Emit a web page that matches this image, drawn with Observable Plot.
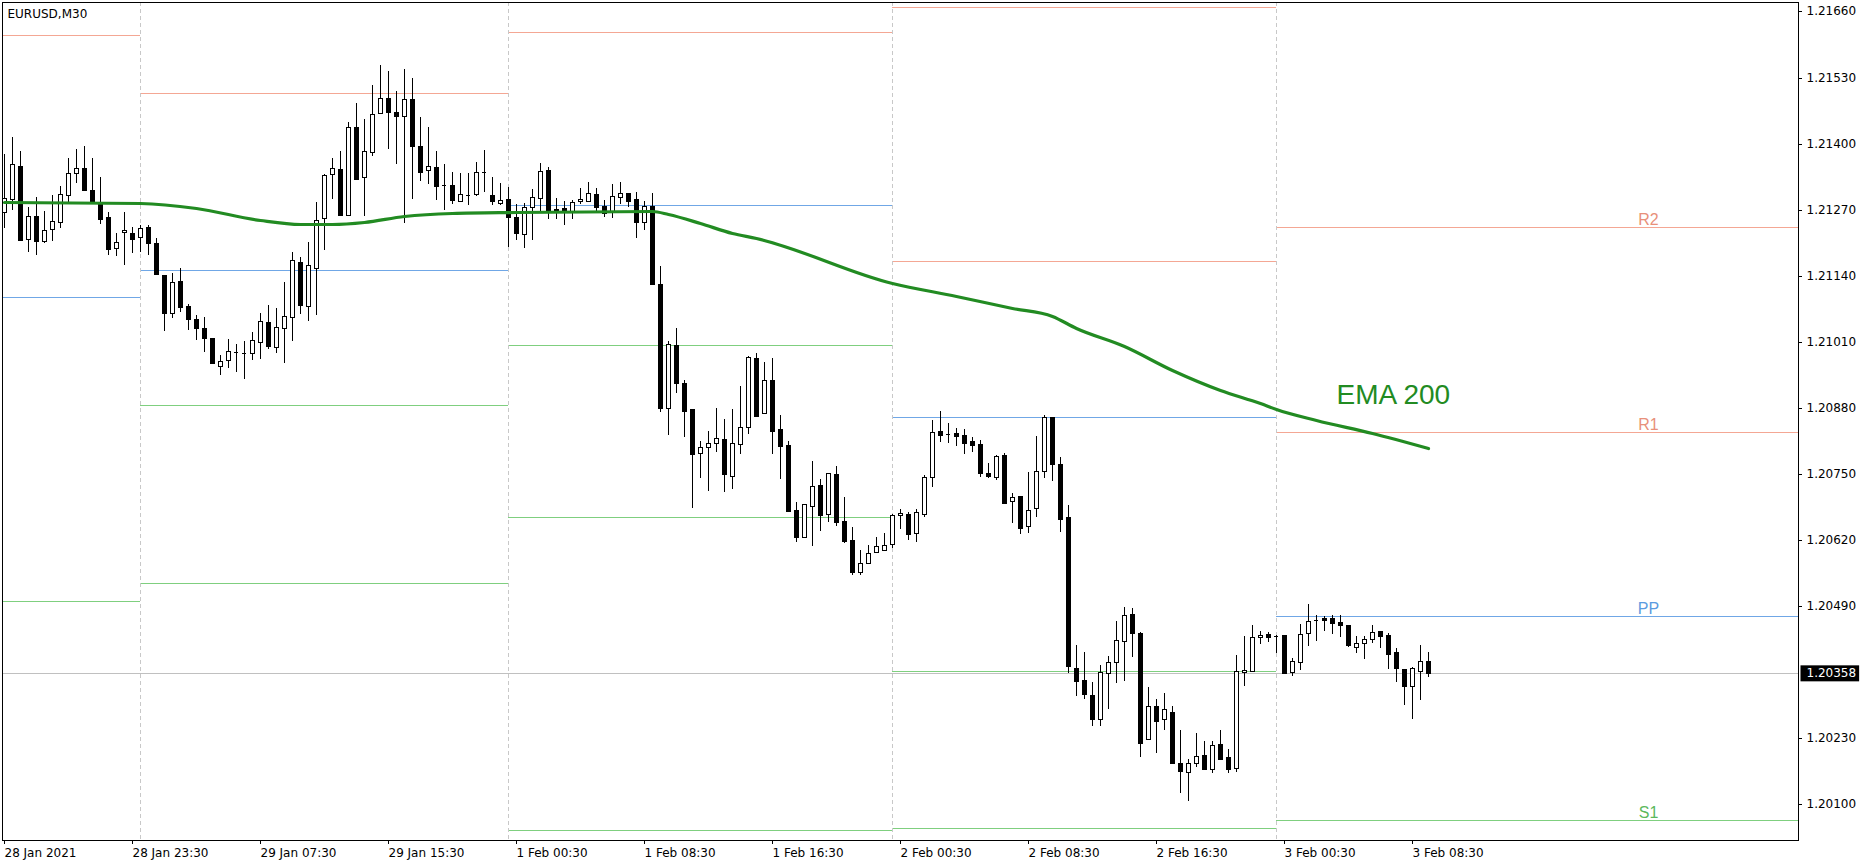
<!DOCTYPE html>
<html><head><meta charset="utf-8">
<script src="https://cdn.jsdelivr.net/npm/d3@7"></script>
<script src="https://cdn.jsdelivr.net/npm/@observablehq/plot@0.6"></script>
<style>body{margin:0;background:#fff;}</style>
</head><body><div id="chart"></div>
<script>
// ---- data (EURUSD M30, bar index 0 = 28 Jan 15:30) ----
const opens = [1.21266,1.21291,1.21356,1.21213,1.21258,1.21209,1.21232,1.21246,1.21299,1.21342,
1.21352,1.21309,1.21285,1.21256,1.21195,1.21226,1.21224,1.21216,1.21236,1.21205,
1.21142,1.21067,1.21130,1.21081,1.21055,1.21037,1.21018,1.20963,1.20974,1.20990,
1.20988,1.20988,1.21010,1.21049,1.21000,1.21037,1.21059,1.21167,1.21081,1.21155,
1.21254,1.21340,1.21350,1.21260,1.21433,1.21335,1.21384,1.21461,1.21490,1.21463,
1.21455,1.21488,1.21396,1.21348,1.21354,1.21319,1.21319,1.21287,1.21299,1.21301,
1.21344,1.21299,1.21283,1.21291,1.21256,1.21222,1.21276,1.21293,1.21348,1.21272,
1.21274,1.21268,1.21287,1.21287,1.21301,1.21277,1.21268,1.21295,1.21303,1.21291,
1.21246,1.21277,1.21124,1.20880,1.21004,1.20929,1.20878,1.20791,1.20803,1.20811,
1.20819,1.20746,1.20809,1.20842,1.20978,1.20870,1.20935,1.20839,1.20807,1.20679,
1.20626,1.20687,1.20728,1.20671,1.20750,1.20657,1.20620,1.20557,1.20575,1.20596,
1.20600,1.20612,1.20669,1.20671,1.20634,1.20671,1.20744,1.20835,1.20829,1.20831,
1.20827,1.20815,1.20809,1.20752,1.20744,1.20787,1.20697,1.20707,1.20648,1.20683,
1.20756,1.20862,1.20770,1.20665,1.20368,1.20344,1.20315,1.20268,1.20358,1.20380,
1.20421,1.20474,1.20437,1.20228,1.20293,1.20268,1.20281,1.20181,1.20163,1.20181,
1.20197,1.20169,1.20218,1.20193,1.20171,1.20360,1.20362,1.20429,1.20435,1.20431,
1.20433,1.20360,1.20380,1.20437,1.20463,1.20466,1.20466,1.20459,1.20453,1.20409,
1.20417,1.20425,1.20441,1.20433,1.20400,1.20366,1.20333,1.20362,1.20382];
const highs = [1.21380,1.21413,1.21386,1.21276,1.21295,1.21268,1.21299,1.21317,1.21372,1.21390,
1.21396,1.21372,1.21335,1.21266,1.21224,1.21266,1.21236,1.21240,1.21240,1.21214,
1.21142,1.21146,1.21155,1.21085,1.21063,1.21059,1.21018,1.20984,1.21016,1.21006,
1.21012,1.21029,1.21067,1.21083,1.21077,1.21128,1.21187,1.21177,1.21207,1.21285,
1.21340,1.21372,1.21386,1.21443,1.21480,1.21449,1.21516,1.21555,1.21543,1.21504,
1.21547,1.21529,1.21453,1.21433,1.21386,1.21360,1.21344,1.21342,1.21342,1.21364,
1.21388,1.21335,1.21323,1.21315,1.21281,1.21283,1.21311,1.21362,1.21354,1.21293,
1.21287,1.21289,1.21313,1.21325,1.21313,1.21289,1.21321,1.21325,1.21303,1.21305,
1.21287,1.21303,1.21159,1.21012,1.21037,1.20935,1.20878,1.20815,1.20835,1.20880,
1.20858,1.20878,1.20923,1.20982,1.20988,1.20970,1.20978,1.20866,1.20815,1.20695,
1.20691,1.20776,1.20740,1.20752,1.20766,1.20705,1.20646,1.20600,1.20610,1.20626,
1.20634,1.20671,1.20681,1.20675,1.20681,1.20748,1.20856,1.20874,1.20850,1.20840,
1.20839,1.20823,1.20817,1.20772,1.20787,1.20791,1.20713,1.20707,1.20754,1.20825,
1.20866,1.20862,1.20783,1.20689,1.20413,1.20400,1.20340,1.20374,1.20392,1.20461,
1.20488,1.20486,1.20439,1.20331,1.20307,1.20319,1.20293,1.20246,1.20189,1.20240,
1.20224,1.20224,1.20246,1.20209,1.20394,1.20431,1.20453,1.20441,1.20439,1.20433,
1.20433,1.20388,1.20455,1.20494,1.20472,1.20470,1.20472,1.20472,1.20453,1.20431,
1.20431,1.20453,1.20441,1.20437,1.20407,1.20366,1.20370,1.20413,1.20400];
const lows = [1.21234,1.21270,1.21209,1.21187,1.21181,1.21205,1.21209,1.21234,1.21285,1.21323,
1.21307,1.21281,1.21242,1.21181,1.21179,1.21161,1.21185,1.21187,1.21181,1.21144,
1.21031,1.21057,1.21069,1.21033,1.21014,1.20990,1.20968,1.20945,1.20959,1.20951,
1.20937,1.20974,1.20976,1.20996,1.20988,1.20968,1.21012,1.21065,1.21051,1.21063,
1.21191,1.21291,1.21260,1.21260,1.21329,1.21258,1.21376,1.21461,1.21390,1.21360,
1.21244,1.21291,1.21327,1.21321,1.21289,1.21270,1.21281,1.21285,1.21279,1.21297,
1.21305,1.21279,1.21279,1.21197,1.21211,1.21195,1.21211,1.21266,1.21252,1.21252,
1.21240,1.21252,1.21281,1.21285,1.21266,1.21256,1.21254,1.21281,1.21276,1.21214,
1.21230,1.21122,1.20872,1.20827,1.20909,1.20823,1.20683,1.20742,1.20716,1.20793,
1.20714,1.20720,1.20789,1.20829,1.20862,1.20870,1.20789,1.20740,1.20675,1.20616,
1.20626,1.20608,1.20638,1.20655,1.20648,1.20614,1.20551,1.20551,1.20575,1.20596,
1.20598,1.20604,1.20642,1.20620,1.20616,1.20665,1.20724,1.20813,1.20811,1.20805,
1.20789,1.20793,1.20744,1.20742,1.20738,1.20693,1.20653,1.20632,1.20634,1.20665,
1.20742,1.20736,1.20636,1.20358,1.20313,1.20307,1.20254,1.20254,1.20287,1.20339,
1.20342,1.20390,1.20193,1.20228,1.20201,1.20246,1.20179,1.20122,1.20106,1.20173,
1.20167,1.20161,1.20187,1.20161,1.20163,1.20333,1.20362,1.20415,1.20419,1.20398,
1.20356,1.20352,1.20364,1.20411,1.20421,1.20441,1.20435,1.20429,1.20409,1.20398,
1.20386,1.20417,1.20407,1.20366,1.20340,1.20295,1.20268,1.20305,1.20350];
const closes = [1.21293,1.21360,1.21211,1.21258,1.21209,1.21230,1.21248,1.21301,1.21342,1.21352,
1.21309,1.21285,1.21252,1.21193,1.21207,1.21230,1.21213,1.21234,1.21205,1.21144,
1.21067,1.21128,1.21079,1.21055,1.21037,1.21018,1.20968,1.20972,1.20992,1.20990,
1.20988,1.21014,1.21051,1.21002,1.21039,1.21061,1.21171,1.21083,1.21161,1.21250,
1.21339,1.21352,1.21260,1.21433,1.21331,1.21386,1.21459,1.21490,1.21463,1.21455,
1.21488,1.21396,1.21344,1.21356,1.21317,1.21319,1.21289,1.21301,1.21299,1.21344,
1.21344,1.21287,1.21289,1.21256,1.21224,1.21276,1.21295,1.21346,1.21268,1.21268,
1.21266,1.21285,1.21291,1.21303,1.21276,1.21264,1.21297,1.21303,1.21287,1.21246,
1.21277,1.21124,1.20880,1.21006,1.20929,1.20874,1.20789,1.20803,1.20811,1.20821,
1.20750,1.20811,1.20842,1.20980,1.20864,1.20935,1.20835,1.20805,1.20677,1.20626,
1.20691,1.20726,1.20669,1.20752,1.20655,1.20618,1.20557,1.20575,1.20594,1.20608,
1.20610,1.20669,1.20673,1.20632,1.20675,1.20744,1.20833,1.20827,1.20829,1.20825,
1.20811,1.20807,1.20752,1.20746,1.20785,1.20693,1.20705,1.20644,1.20679,1.20756,
1.20862,1.20770,1.20661,1.20372,1.20342,1.20317,1.20268,1.20360,1.20380,1.20423,
1.20472,1.20437,1.20220,1.20293,1.20264,1.20287,1.20181,1.20165,1.20181,1.20195,
1.20169,1.20216,1.20189,1.20169,1.20362,1.20364,1.20429,1.20433,1.20429,1.20431,
1.20358,1.20382,1.20435,1.20461,1.20463,1.20463,1.20457,1.20453,1.20413,1.20417,
1.20425,1.20439,1.20431,1.20396,1.20368,1.20333,1.20368,1.20382,1.20358];

const emaBars   = [0,17,24,32,37,41,45,50,56,64,81,83,87,91,94,111,119,126,131,134,140,146,152,157,159,164,171,178];
const emaValues = [1.21285,1.21283,1.21274,1.21250,1.21242,1.21242,1.21246,1.21258,1.21264,1.21266,1.21267,1.21262,1.21244,1.21224,1.21214,
                   1.21126,1.21100,1.21077,1.21061,1.21037,1.21002,1.20955,1.20915,1.20890,1.20878,1.20856,1.20831,1.20801];

const tickBars   = [0,16,32,48,64,80,96,112,128,144,160,176];
const tickLabels = ["28 Jan 2021","28 Jan 23:30","29 Jan 07:30","29 Jan 15:30","1 Feb 00:30","1 Feb 08:30",
                    "1 Feb 16:30","2 Feb 00:30","2 Feb 08:30","2 Feb 16:30","3 Feb 00:30","3 Feb 08:30"];
const priceTicks = [1.20100,1.20230,1.20490,1.20620,1.20750,1.20880,1.21010,1.21140,1.21270,1.21400,1.21530,1.21660];

const dayStartBars = [0,17,63,111,159];           // 28 Jan, 29 Jan, 1 Feb, 2 Feb, 3 Feb
const daySeparators = [17,63,111,159];
const resistanceLevels = [[1.21614],[1.21499],[1.21620],[1.21669,1.21169],[1.21236,1.20833]];
const pivotLevels      = [1.21098,1.21152,1.21279,1.20861,1.20470];
const supportLevels    = [[1.20500],[1.20886,1.20535],[1.21003,1.20664,1.20049],[1.20362,1.20053],[1.20069]];
const pivotLabels      = ["R2","R1","PP","S1"];
const pivotLabelLevels = [1.21236,1.20833,1.20470,1.20069];
const pivotLabelKinds  = ["R","R","P","S"];
const pivotLabelBar = 205.5;

const lastPrice = 1.20358;
const symbolTitle = "EURUSD,M30";
const emaLabel = "EMA 200";
const emaLabelBar = 166.5, emaLabelLevel = 1.20890;

// ---- build tables ----
const xDomain = [-0.25, 224.25];
const yDomain = [1.200291, 1.216787];
const candles = opens.map((o, i) => ({i, o, h: highs[i], l: lows[i], c: closes[i]}));
const ema = emaBars.map((b, k) => ({i: b, v: emaValues[k]}));
const segs = [];
dayStartBars.forEach((s, k) => {
  const x1 = k === 0 ? xDomain[0] : s;
  const x2 = k === dayStartBars.length - 1 ? xDomain[1] : dayStartBars[k + 1];
  resistanceLevels[k].forEach(v => segs.push({x1, x2, v, kind: "R"}));
  segs.push({x1, x2, v: pivotLevels[k], kind: "P"});
  supportLevels[k].forEach(v => segs.push({x1, x2, v, kind: "S"}));
});
const pLabels = pivotLabels.map((t, k) => ({t, v: pivotLabelLevels[k], kind: pivotLabelKinds[k]}));
const lineColor = {R: "#f4a794", P: "#70a7e6", S: "#7fcf7f"};
const textColor = {R: "#e8907a", P: "#5b9be0", S: "#5cb85c"};

const chart = Plot.plot({
  width: 1870, height: 867,
  marginLeft: 2, marginRight: 72, marginTop: 2, marginBottom: 27,
  style: {fontFamily: "'DejaVu Sans', sans-serif", fontSize: "12px", color: "black", background: "white", overflow: "visible"},
  x: {type: "linear", domain: xDomain, label: null, round: true},
  y: {type: "linear", domain: yDomain, label: null, round: true},
  marks: [
    ...["R","P","S"].map(kd => Plot.ruleY(segs.filter(d => d.kind === kd), {y: "v", x1: "x1", x2: "x2", stroke: lineColor[kd], strokeWidth: 1})),
    Plot.ruleX(daySeparators, {x: d => d, stroke: "#c8c8c8", strokeDasharray: "4,3"}),
    Plot.ruleY([lastPrice], {y: d => d, stroke: "#c0c0c0"}),
    Plot.ruleX(candles, {x: "i", y1: "l", y2: "h", stroke: "black", strokeWidth: 1}),
    Plot.rect(candles.filter(d => d.c > d.o), {x1: d => d.i - 0.25, x2: d => d.i + 0.25, y1: "o", y2: "c", dx: 0.5, dy: 0.5,
      fill: "white", stroke: "black", strokeWidth: 1}),
    Plot.rect(candles.filter(d => d.c < d.o), {x1: d => d.i - 0.25, x2: d => d.i + 0.25, y1: "o", y2: "c", dx: 0.5, dy: 0.5,
      fill: "black", stroke: "black", strokeWidth: 1}),
    Plot.ruleY(candles.filter(d => d.c === d.o), {y: "o", x1: d => d.i - 0.25, x2: d => d.i + 0.25, stroke: "black", strokeWidth: 1}),
    Plot.line(ema, {x: "i", y: "v", stroke: "#228b22", strokeWidth: 3.2, curve: "monotone-x"}),
    Plot.text([emaLabel], {x: emaLabelBar, y: emaLabelLevel, text: d => d, textAnchor: "start", lineAnchor: "bottom",
      fill: "#228b22", fontSize: 28, fontFamily: "'Liberation Sans', Arial, sans-serif"}),
    ...["R","P","S"].map(kd => Plot.text(pLabels.filter(d => d.kind === kd), {x: pivotLabelBar, y: "v", text: "t", lineAnchor: "bottom", dy: -3,
      fill: textColor[kd], fontSize: 16, fontFamily: "'Liberation Sans', Arial, sans-serif"})),
    Plot.text([symbolTitle], {frameAnchor: "top-left", text: d => d, dx: 5, dy: 7, textAnchor: "start", lineAnchor: "top", fill: "black", fontSize: 12}),
    Plot.frame({stroke: "black", strokeWidth: 1}),
    Plot.axisY({anchor: "right", ticks: priceTicks, tickFormat: d3.format(".5f"), tickSize: 3, tickPadding: 5, label: null, fontSize: 12}),
    Plot.axisX({anchor: "bottom", ticks: tickBars, tickFormat: d => tickLabels[tickBars.indexOf(d)], tickSize: 4, tickPadding: 4,
      textAnchor: "start", label: null, fontSize: 12}),
    Plot.text([lastPrice], {y: d => d, text: d => d3.format(".5f")(d), frameAnchor: "right", dx: 8, textAnchor: "start",
      fill: "white", fontSize: 12, className: "pricetag"})
  ]
});
document.getElementById("chart").appendChild(chart);

// black box behind the current-price tag
const tagText = chart.querySelector(".pricetag text");
if (tagText) {
  const bb = tagText.getBBox();
  const r = document.createElementNS("http://www.w3.org/2000/svg", "rect");
  r.setAttribute("x", bb.x - 6); r.setAttribute("y", bb.y - 1);
  r.setAttribute("width", bb.width + 9); r.setAttribute("height", bb.height + 2);
  r.setAttribute("fill", "black");
  const tr = tagText.getAttribute("transform");
  if (tr) r.setAttribute("transform", tr);
  tagText.parentNode.insertBefore(r, tagText);
}
</script>
</body></html>
